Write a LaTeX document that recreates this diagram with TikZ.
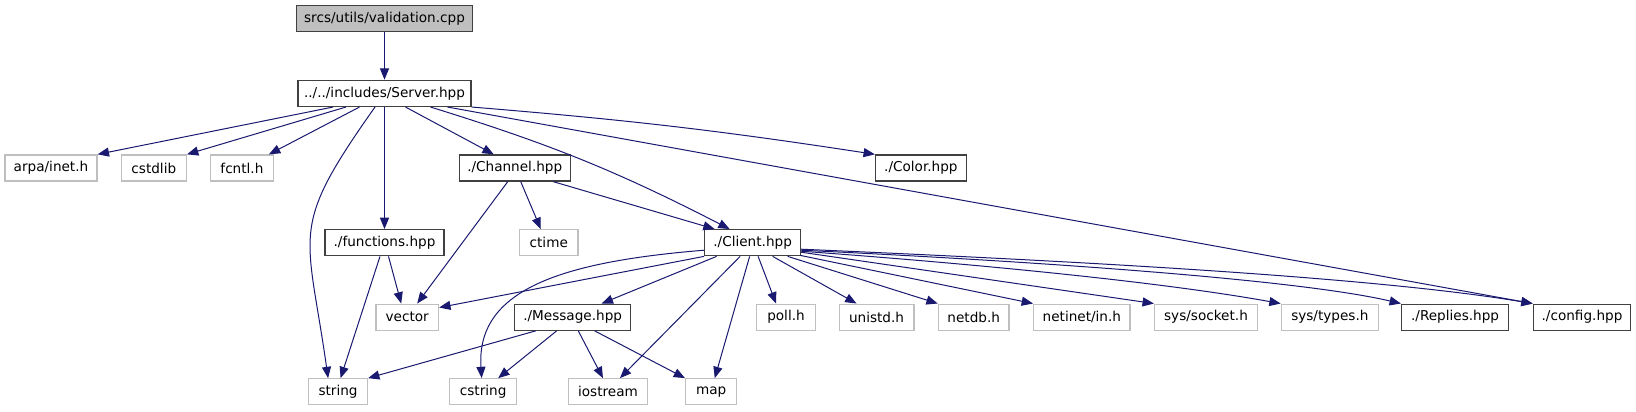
\documentclass[tikz,border=0pt]{standalone}
\usepackage{fontspec}
\setmainfont{DejaVu Sans}
\usepackage{xcolor}
\usepackage{tikz}
\usetikzlibrary{shapes, arrows.meta, positioning, calc}

\definecolor{edgeblue}{HTML}{191970}
\definecolor{sysgray}{HTML}{BFBFBF}
\definecolor{hdrgray}{HTML}{404040}

\begin{document}
\begin{tikzpicture}[x=0.75pt, y=-0.75pt, node distance=2cm,
    >={Triangle[length=8.5pt, width=6.8pt]},
    filebox/.style={rectangle, draw=hdrgray, line width=1pt, inner sep=0pt, minimum height=19.5pt, text centered, font=\fontsize{10.2}{12}\selectfont},
    sysbox/.style={filebox, draw=sysgray},
    rootbox/.style={filebox, fill=sysgray},
    dep/.style={->, draw=edgeblue, line width=0.75pt}]

    \useasboundingbox (0,0) rectangle (1636,411);

    \node[rootbox, minimum width=132pt] (validation) at (384.5,18.7) {srcs/utils/validation.cpp};
    \node[filebox, below of=validation, node distance=56pt, minimum width=129.75pt] (server) {../../includes/Server.hpp};

    \node[sysbox, minimum width=69pt] (arpa) at (51,168) {arpa/inet.h};
    \node[sysbox, right of=arpa, node distance=77.1pt, minimum width=48.8pt] (cstdlib) {cstdlib};
    \node[sysbox, right of=cstdlib, node distance=66.1pt, minimum width=47pt] (fcntl) {fcntl.h};
    \node[filebox, right of=fcntl, node distance=204.6pt, minimum width=83.25pt] (channel) {./Channel.hpp};
    \node[filebox, right of=channel, node distance=304.6pt, minimum width=68pt] (color) {./Color.hpp};

    \node[filebox, below of=server, node distance=112pt, minimum width=89.25pt] (functions) {./functions.hpp};
    \node[sysbox, right of=functions, node distance=123.2pt, minimum width=44pt] (ctime) {ctime};
    \node[filebox, right of=ctime, node distance=152.9pt, minimum width=71.8pt] (client) {./Client.hpp};

    \node[sysbox, minimum width=47pt] (vector) at (407.2,317.2) {vector};
    \node[filebox, right of=vector, node distance=124.1pt, minimum width=87pt] (message) {./Message.hpp};
    \node[sysbox, right of=message, node distance=160pt, minimum width=44.25pt] (poll) {poll.h};
    \node[sysbox, right of=poll, node distance=67.9pt, minimum width=56pt] (unistd) {unistd.h};
    \node[sysbox, right of=unistd, node distance=72.9pt, minimum width=53pt] (netdb) {netdb.h};
    \node[sysbox, right of=netdb, node distance=81.1pt, minimum width=72.3pt] (netinet) {netinet/in.h};
    \node[sysbox, right of=netinet, node distance=93.1pt, minimum width=77.2pt] (socket) {sys/socket.h};
    \node[sysbox, right of=socket, node distance=92.9pt, minimum width=72.8pt] (types) {sys/types.h};
    \node[filebox, right of=types, node distance=93.9pt, minimum width=80.25pt] (replies) {./Replies.hpp};
    \node[filebox, right of=replies, node distance=95.2pt, minimum width=73pt] (config) {./config.hpp};

    \node[sysbox, minimum width=44pt] (string) at (338.1,391.8) {string};
    \node[sysbox, right of=string, node distance=108.8pt, minimum width=50.2pt] (cstring) {cstring};
    \node[sysbox, right of=cstring, node distance=93.6pt, minimum width=59.6pt] (iostream) {iostream};
    \node[sysbox, right of=iostream, node distance=77.4pt, minimum width=38.2pt] (map) {map};

    \draw[dep] (validation) -- (server);
    \draw[dep] ($(server.south)+(-51.5,0)$) -- (arpa.north east);
    \draw[dep] ($(server.south)+(-38.5,0)$) -- (cstdlib.north east);
    \draw[dep] ($(server.south)+(-25,0)$) -- ($(fcntl.north east)+(-5,0)$);
    \draw[dep] ($(server.south)+(-9.5,0)$) .. controls (288,230) and (307,229) .. ($(string.north)+(-10,0)$);
    \draw[dep] (server) -- (functions);
    \draw[dep] ($(server.south)+(21,0)$) -- ($(channel.north)+(-21,0)$);
    \draw[dep] ($(server.south)+(46,0)$) to[bend left=5] ($(client.north)+(-23,0)$);
    \draw[dep] ($(server.south)+(63,0)$) -- (config.north west);
    \draw[dep] (server.south east) to[bend left=2] (color.north west);

    \draw[dep] ($(channel.south)+(-7,0)$) -- ($(vector.north)+(10,0)$);
    \draw[dep] ($(channel.south)+(6,0)$) -- ($(ctime.north)+(-8,0)$);
    \draw[dep] ($(channel.south)+(38.6,0)$) -- ($(client.north)+(-38,0)$);

    \draw[dep] ($(functions.south)+(-4.5,0)$) -- ($(string.north)+(2.5,0)$);
    \draw[dep] ($(functions.south)+(4,0)$) -- ($(vector.north)+(-6,0)$);

    \draw[dep] ($(client.west)+(0,7.5)$) .. controls (560,262) and (476,290) .. ($(cstring.north)+(-1.5,0)$);
    \draw[dep] (client.south west) -- ($(vector.north east)+(0,4)$);
    \draw[dep] ($(client.south)+(-36,0)$) -- ($(message.north)+(29,0)$);
    \draw[dep] ($(client.south)+(-12.5,0)$) -- ($(iostream.north)+(12,0)$);
    \draw[dep] ($(client.south)+(-3,0)$) -- ($(map.north)+(3.6,0)$);
    \draw[dep] ($(client.south)+(5.5,0)$) -- ($(poll.north)+(-10,0)$);
    \draw[dep] ($(client.south)+(20,0)$) -- ($(unistd.north)+(-20,0)$);
    \draw[dep] ($(client.south)+(35,0)$) -- (netdb.north west);
    \draw[dep] ($(client.south east)+(-1,-1)$) -- (netinet.north west);
    \draw[dep] ($(client.east)+(0,9.5)$) -- (socket.north west);
    \draw[dep] ($(client.east)+(0,8.5)$) .. controls (950,262) and (1150,280) .. (types.north west);
    \draw[dep] ($(client.east)+(0,7.5)$) .. controls (1050,262) and (1300,280) .. (replies.north west);
    \draw[dep] ($(client.east)+(0,6.5)$) .. controls (1100,262) and (1380,278) .. (config.north west);

    \draw[dep] ($(message.south)+(-37,0)$) -- (string.north east);
    \draw[dep] ($(message.south)+(-16,0)$) -- ($(cstring.north)+(15,0)$);
    \draw[dep] ($(message.south)+(5.6,0)$) -- ($(iostream.north)+(-5,0)$);
    \draw[dep] ($(message.south)+(22,0)$) -- (map.north west);
\end{tikzpicture}
\end{document}
